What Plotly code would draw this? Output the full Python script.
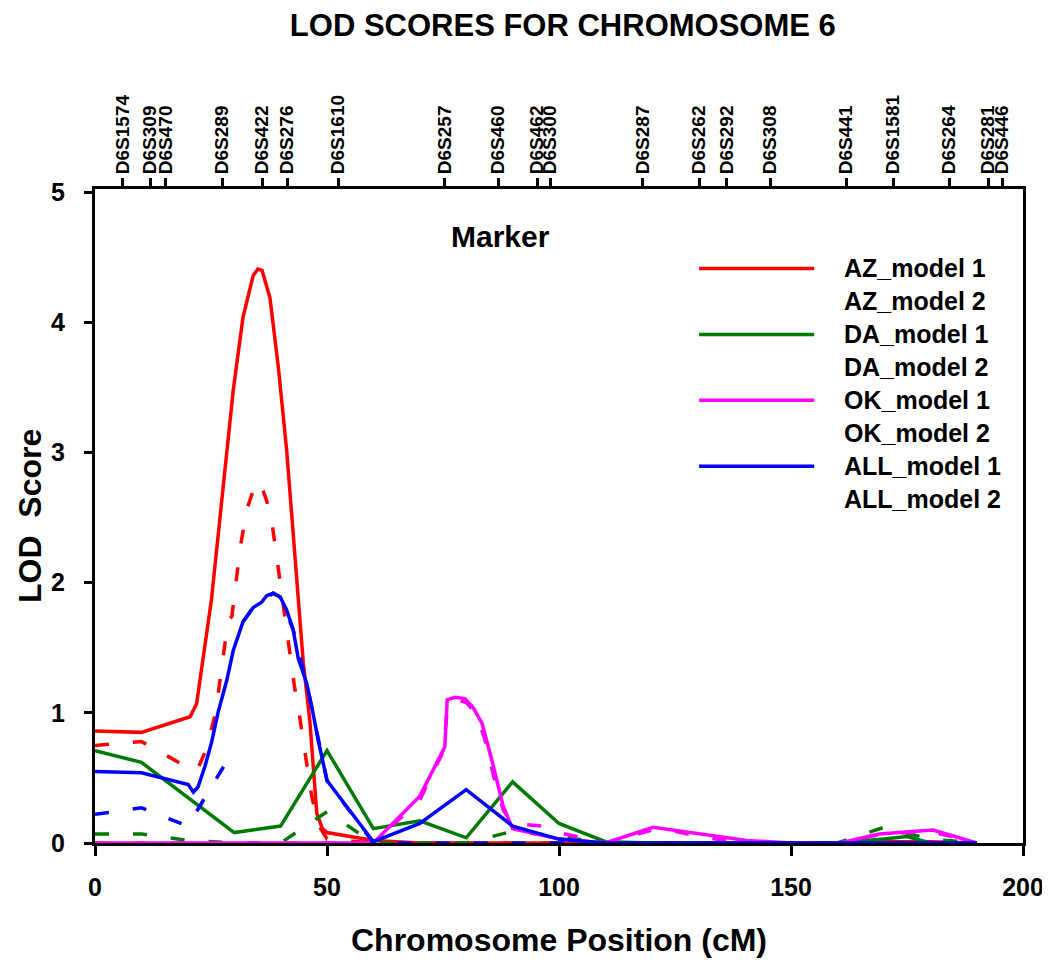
import plotly.graph_objects as go

# ---- data ----
markers = ["D6S1574", "D6S309", "D6S470", "D6S289", "D6S422", "D6S276", "D6S1610",
           "D6S257", "D6S460", "D6S462", "D6S300", "D6S287", "D6S262", "D6S292",
           "D6S308", "D6S441", "D6S1581", "D6S264", "D6S281", "D6S446"]
marker_pos = [6.0, 11.9, 15.3, 27.4, 36.0, 41.4, 52.4, 75.4, 86.9, 95.3, 98.1,
              118.1, 130.2, 136.2, 145.5, 161.9, 172.0, 184.1, 192.5, 195.5]

az1_x = [0, 10, 20.5, 21.9, 25.1, 27.6, 29.8, 31.9, 34.1, 35.1, 36, 37.7, 39.5, 41.3,
         43.8, 44.9, 46.3, 47.8, 49, 50, 60, 70, 80, 90, 100, 110, 120, 130, 140, 150,
         160, 170, 180, 190]
az1_y = [0.86, 0.85, 0.97, 1.07, 1.87, 2.76, 3.48, 4.04, 4.36, 4.41, 4.40, 4.19, 3.66, 3.02,
         1.87, 1.38, 0.94, 0.23, 0.11, 0.08, 0.02, 0, 0, 0, 0, 0, 0, 0, 0, 0,
         0, 0.01, 0.01, 0]

az2_x = [0, 10, 20, 22, 24, 26, 27.5, 28.7, 29.5, 31.3, 32.7, 34.1, 35.5, 37, 38.3, 40.4,
         42, 43, 44.2, 45.3, 46.5, 48, 50, 60, 70, 80, 90, 100, 110, 120, 130, 140, 150,
         160, 170, 180, 190]
az2_y = [0.75, 0.78, 0.58, 0.56, 0.72, 1.0, 1.4, 1.71, 1.74, 2.27, 2.56, 2.71, 2.78, 2.63, 2.42, 1.88,
         1.5, 1.2, 0.95, 0.69, 0.4, 0.15, 0.03, 0, 0, 0, 0, 0, 0, 0, 0, 0, 0,
         0, 0, 0, 0]

da1_x = [0, 10, 30, 40, 50, 60, 70, 80, 90, 100, 110, 120, 130, 140, 150, 160, 170, 175, 180, 190]
da1_y = [0.71, 0.62, 0.08, 0.13, 0.71, 0.11, 0.17, 0.04, 0.47, 0.15, 0.01, 0, 0, 0, 0, 0, 0.03, 0.05, 0, 0]

da2_x = [0, 10, 20, 30, 40, 50, 60, 70, 80, 90, 100, 110, 120, 130, 140, 150, 160, 170, 180, 190]
da2_y = [0.07, 0.07, 0.02, 0, 0, 0.24, 0, 0, 0, 0.09, 0.05, 0, 0, 0, 0, 0, 0, 0.12, 0.03, 0]

ok1_x = [0, 10, 20, 30, 40, 50, 60, 70, 75.4, 75.9, 77.6, 79.7, 81.5, 83.4, 85.5, 88, 90,
         100, 110, 120.3, 128, 140.5, 150, 160.6, 169, 180.6, 190]
ok1_y = [0, 0, 0, 0, 0, 0, 0, 0.36, 0.74, 1.1, 1.12, 1.11, 1.04, 0.92, 0.64, 0.28, 0.11,
         0.03, 0, 0.12, 0.08, 0.02, 0, 0, 0.07, 0.1, 0]

ok2_x = [0, 10, 20, 30, 40, 50, 60, 70, 75, 76, 78, 80, 82, 84, 86, 88, 90, 96, 100, 110,
         120, 125, 130, 140, 150, 160, 170, 180, 190]
ok2_y = [0, 0, 0, 0, 0, 0, 0, 0.33, 0.7, 1.05, 1.1, 1.08, 1.0, 0.8, 0.5, 0.25, 0.15, 0.13, 0.08, 0,
         0.1, 0.09, 0.05, 0, 0, 0, 0.07, 0.09, 0]

all1_x = [0, 10, 20.1, 21.2, 22.2, 23.7, 25.1, 26.5, 28.4, 29.8, 31.9, 34.1, 35.9, 37, 38.4,
          39.9, 41.3, 42.7, 43.8, 45.6, 46.7, 48.1, 50, 60, 70, 80, 90, 100, 110, 120,
          130, 140, 150, 160, 170, 180, 190]
all1_y = [0.55, 0.54, 0.45, 0.39, 0.43, 0.59, 0.77, 1.0, 1.25, 1.48, 1.7, 1.81, 1.85, 1.9, 1.92,
          1.89, 1.79, 1.64, 1.42, 1.23, 1.05, 0.79, 0.48, 0.01, 0.15, 0.41, 0.13, 0.03, 0, 0,
          0, 0, 0, 0, 0, 0, 0]

# model 2 of ALL has a break after 30.4 cM (None = no value)
all2_x = [0, 10, 20, 27.6, 30.4, None, 31.9, 34.1, 35.9, 38.4, 39.9, 42.7, 45.6, 48.1, 50, 60, 70,
          80, 90, 100, 110, 120, 130, 140, 150, 160, 170, 180, 190]
all2_y = [0.22, 0.27, 0.13, 0.58, 0.72, None, 1.7, 1.81, 1.85, 1.92, 1.89, 1.64, 1.23, 0.79, 0.48, 0, 0,
          0, 0, 0, 0, 0, 0, 0, 0, 0, 0, 0, 0]

series_names = ["AZ_model 1", "AZ_model 2", "DA_model 1", "DA_model 2",
                "OK_model 1", "OK_model 2", "ALL_model 1", "ALL_model 2"]

# ---- styling ----
FONT = "Arial, Liberation Sans, sans-serif"
RED, GREEN, MAGENTA, BLUE = "#ff0000", "#007a00", "#ff00ff", "#0000ff"
DASH = "14px,24px"


def bold(size):
    return dict(family=FONT, size=size, color="black", weight="bold")


series = [
    (az1_x, az1_y, RED, "solid"),
    (az2_x, az2_y, RED, DASH),
    (da1_x, da1_y, GREEN, "solid"),
    (da2_x, da2_y, GREEN, DASH),
    (ok1_x, ok1_y, MAGENTA, "solid"),
    (ok2_x, ok2_y, MAGENTA, DASH),
    (all1_x, all1_y, BLUE, "solid"),
    (all2_x, all2_y, BLUE, DASH),
]

fig = go.Figure()

for (xs, ys, col, dash), name in zip(series, series_names):
    fig.add_trace(go.Scatter(x=xs, y=ys, mode="lines", name=name,
                             line=dict(color=col, width=3.5, dash=dash),
                             showlegend=False))

# invisible trace so the top marker axis is drawn
fig.add_trace(go.Scatter(x=marker_pos, y=[0] * len(marker_pos), xaxis="x2",
                         mode="markers", marker=dict(opacity=0), showlegend=False,
                         hoverinfo="skip"))

# hand-made legend (model 2 rows carry no sample line, as in the original)
leg_top = 4.415
leg_step = 0.2535
for i, ((xs, ys, col, dash), name) in enumerate(zip(series, series_names)):
    yy = leg_top - i * leg_step
    if dash == "solid":
        fig.add_shape(type="line", xref="x", yref="y", x0=130.2, x1=155.0, y0=yy, y1=yy,
                      line=dict(color=col, width=3.5))
    fig.add_annotation(x=161.0, y=yy, xref="x", yref="y", text=name,
                       showarrow=False, xanchor="left", yanchor="middle",
                       font=bold(25))

fig.add_annotation(x=87.3, y=4.66, xref="x", yref="y", text="Marker",
                   showarrow=False, xanchor="center", yanchor="middle",
                   font=bold(30))

# axis titles as annotations (standoff is ignored without automargin)
fig.add_annotation(x=0.5, y=-0.148, xref="paper", yref="paper",
                   text="Chromosome Position (cM)", showarrow=False,
                   xanchor="center", yanchor="middle", font=bold(32))
fig.add_annotation(x=-0.07, y=0.5, xref="paper", yref="paper",
                   text="LOD  Score", showarrow=False, textangle=-90,
                   xanchor="center", yanchor="middle", font=bold(32))

# the page adds an 8px body margin, so the figure is shifted by 8px
fig.update_layout(
    width=1042, height=953,
    margin=dict(l=87, r=27, t=181, b=118),
    paper_bgcolor="white", plot_bgcolor="white",
    font=dict(family=FONT, color="black"),
    title=dict(text="LOD SCORES FOR CHROMOSOME 6", x=0.5325, xanchor="center",
               y=0.9822, yanchor="middle", yref="container",
               font=bold(31)),
    xaxis=dict(range=[0, 200], tickvals=[0, 50, 100, 150, 200], showgrid=False,
               zeroline=False, showline=True, linecolor="black", linewidth=3,
               ticks="outside", ticklen=10, tickwidth=3, tickcolor="black",
               ticklabelstandoff=10, automargin=False,
               tickfont=bold(25)),
    xaxis2=dict(range=[0, 200], overlaying="x", side="top", tickvals=marker_pos,
                ticktext=markers, tickangle=-90, showgrid=False, zeroline=False,
                showline=True, linecolor="black", linewidth=3, automargin=False,
                ticks="outside", ticklen=8, tickwidth=3, tickcolor="black",
                tickfont=bold(19)),
    yaxis=dict(range=[0, 5.025], tickvals=[0, 1, 2, 3, 4, 5], showgrid=False,
               zeroline=False, showline=True, linecolor="black", linewidth=3,
               mirror=True, automargin=False,
               ticks="outside", ticklen=8, tickwidth=3, tickcolor="black",
               ticklabelstandoff=14,
               tickfont=bold(25)),
)

fig.write_html("out.html")
